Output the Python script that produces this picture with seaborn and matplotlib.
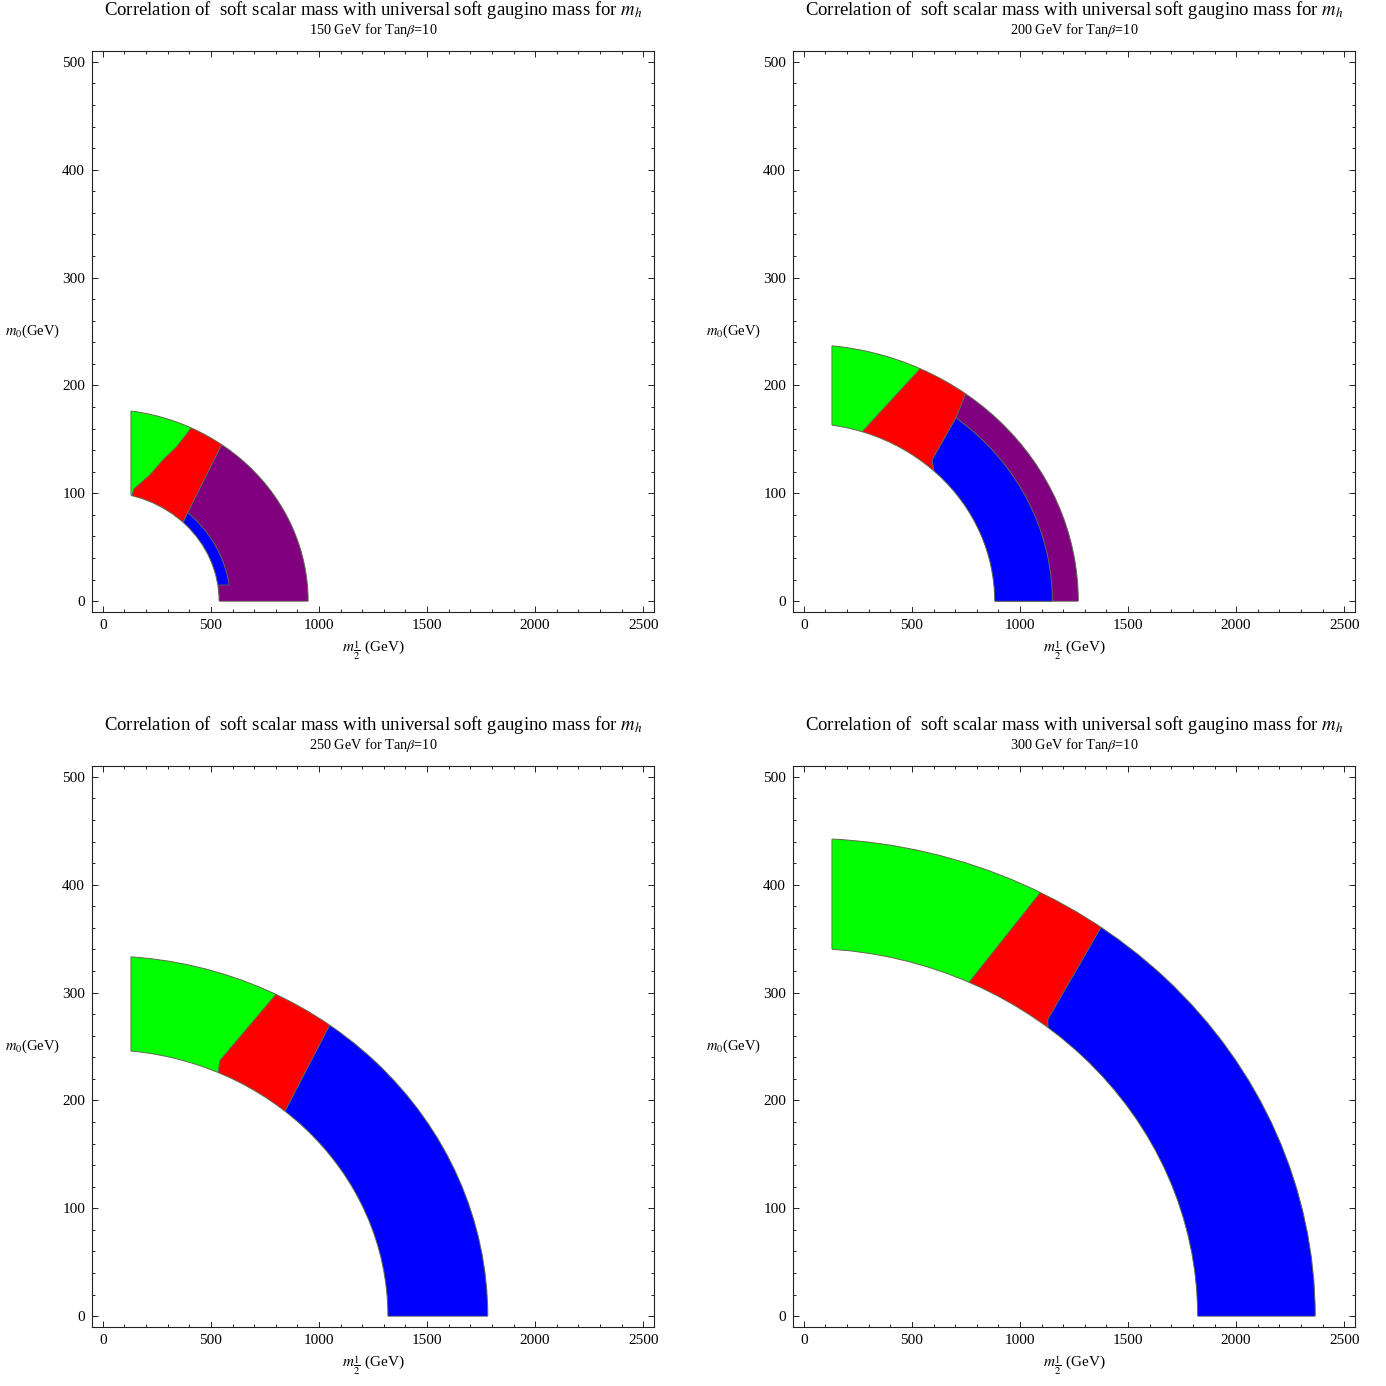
import matplotlib
matplotlib.use("Agg")
import matplotlib.pyplot as plt
from matplotlib.patches import Polygon, Ellipse, Rectangle
import seaborn as sns

sns.set_style("ticks")
plt.rcParams['font.family'] = ['Liberation Serif', 'DejaVu Serif']
plt.rcParams['mathtext.fontset'] = 'stix'
for k in ['text.color', 'axes.labelcolor', 'xtick.color', 'ytick.color']:
    plt.rcParams[k] = 'black'

higgs_masses = [150, 200, 250, 300]
m12_min = 130

# band edges: (m_1/2 at m_0 = 0, m_0 at m_1/2 = 0)
inner_edge = [(538, 101), (883, 165), (1319, 247), (1822, 341)]
outer_edge = [(950, 178), (1270, 238), (1781, 334), (2366, 443)]

# m_h = 150 GeV
p1_green_red_x = [136, 144, 218, 279, 341, 400]
p1_green_red_y = [98, 104, 117, 131, 143, 158]
p1_red_purple_x = [372, 395, 542]
p1_red_purple_y = [73, 83, 142]
p1_blue_edge = (590, 110)
p1_blue_floor_x = [300, 700]
p1_blue_floor_y = [15, 15]

# m_h = 200 GeV
p2_green_red_x = [270, 532]
p2_green_red_y = [157, 214]
p2_red_purple_x = [602, 594, 702, 748]
p2_red_purple_y = [121, 131, 169, 192]
p2_blue_edge = (1150, 215)

# m_h = 250 GeV
p3_green_red_x = [534, 542, 796]
p3_green_red_y = [226, 237, 297]
p3_red_blue_x = [843, 1048]
p3_red_blue_y = [190, 269]

# m_h = 300 GeV
p4_green_red_x = [767, 1092]
p4_green_red_y = [310, 392]
p4_red_blue_x = [1130, 1129, 1371]
p4_red_blue_y = [268, 275, 359]

GREEN, RED, PURPLE, BLUE = '#00ff00', '#ff0000', '#800080', '#0000ff'
EDGE = '#5e6a4e'


def left_cut(i):
    return [m12_min, m12_min], [inner_edge[i][1] * 0.5, outer_edge[i][1] * 1.02]


def bottom_cut(i):
    return [inner_edge[i][0] * 0.6, outer_edge[i][0] * 1.02], [0, 0]


def add_region(ax, color, left, right, clip_ab):
    lx, ly = left
    rx, ry = right
    pts = [(m12_min, 0)] + list(zip(lx, ly))
    pts += [(2 * lx[-1], 2 * ly[-1]), (2 * rx[-1], 2 * ry[-1])]
    pts += list(zip(rx, ry))[::-1]
    poly = Polygon(pts, closed=True, facecolor=color, edgecolor=EDGE,
                   lw=0.6, zorder=1)
    ax.add_patch(poly)
    clip = Ellipse((0, 0), 2 * clip_ab[0], 2 * clip_ab[1], transform=ax.transData)
    poly.set_clip_path(clip)
    return poly


def add_edge_line(ax, ab, clip):
    e = Ellipse((0, 0), 2 * ab[0], 2 * ab[1], fill=False, edgecolor=EDGE,
                lw=0.7, zorder=1.6)
    ax.add_patch(e)
    e.set_clip_path(clip)


fig = plt.figure(figsize=(13.86, 13.86), dpi=100)
W, H = 1386, 1386
boxes = [(92, 51), (793, 51), (92, 766), (793, 766)]
axes = []
for (l, t) in boxes:
    axes.append(fig.add_axes([l / W, 1 - (t + 561) / H, 562 / W, 561 / H]))

p1_gr = (p1_green_red_x, p1_green_red_y)
p1_rp = (p1_red_purple_x, p1_red_purple_y)
p2_gr = (p2_green_red_x, p2_green_red_y)
p2_rp = (p2_red_purple_x, p2_red_purple_y)
p3_gr = (p3_green_red_x, p3_green_red_y)
p3_rb = (p3_red_blue_x, p3_red_blue_y)
p4_gr = (p4_green_red_x, p4_green_red_y)
p4_rb = (p4_red_blue_x, p4_red_blue_y)

for i, ax in enumerate(axes):
    outer = outer_edge[i]
    inner = inner_edge[i]
    if i == 0:
        add_region(ax, GREEN, left_cut(0), p1_gr, outer)
        add_region(ax, RED, p1_gr, p1_rp, outer)
        add_region(ax, PURPLE, p1_rp, bottom_cut(0), outer)
        b = add_region(ax, BLUE, p1_rp, (p1_blue_floor_x, p1_blue_floor_y), p1_blue_edge)
        add_edge_line(ax, p1_blue_edge, b)
    elif i == 1:
        add_region(ax, GREEN, left_cut(1), p2_gr, outer)
        add_region(ax, RED, p2_gr, p2_rp, outer)
        add_region(ax, PURPLE, p2_rp, bottom_cut(1), outer)
        b = add_region(ax, BLUE, p2_rp, bottom_cut(1), p2_blue_edge)
        add_edge_line(ax, p2_blue_edge, b)
    elif i == 2:
        add_region(ax, GREEN, left_cut(2), p3_gr, outer)
        add_region(ax, RED, p3_gr, p3_rb, outer)
        add_region(ax, BLUE, p3_rb, bottom_cut(2), outer)
    else:
        add_region(ax, GREEN, left_cut(3), p4_gr, outer)
        add_region(ax, RED, p4_gr, p4_rb, outer)
        add_region(ax, BLUE, p4_rb, bottom_cut(3), outer)

    # white hole inside the band, a bit wider than the band's cut so the
    # polygon hub edges vanish
    wide = Rectangle((m12_min - 10, -5), 4000, 1000, transform=ax.transData)
    rect = Rectangle((m12_min, 0), 4000, 1000, transform=ax.transData)
    hole = Ellipse((0, 0), 2 * inner[0], 2 * inner[1], facecolor='white',
                   edgecolor='none', zorder=1.5)
    ax.add_patch(hole)
    hole.set_clip_path(wide)
    add_edge_line(ax, inner, rect)
    add_edge_line(ax, outer, rect)

    ax.set_xlim(-50, 2550)
    ax.set_ylim(-10, 510)
    ax.set_xticks(range(0, 2501, 500))
    ax.set_xticks(range(0, 2501, 100), minor=True)
    ax.set_yticks(range(0, 501, 100))
    ax.set_yticks(range(0, 501, 20), minor=True)
    ax.tick_params(which='both', direction='in', top=True, right=True,
                   width=0.7, color='#222222', labelsize=11, pad=5)
    ax.tick_params(which='major', length=4.5)
    ax.tick_params(which='minor', length=2.5)
    for s in ax.spines.values():
        s.set_linewidth(0.8)
        s.set_color('#222222')

    ax.set_xlabel(r'$m_{\dfrac{1}{2}}$ (GeV)', fontsize=11, va='top')
    ax.xaxis.set_label_coords(0.5, -0.048)
    ax.set_ylabel(r'$m_0$(GeV)', fontsize=10.5, rotation=0, ha='right', va='center')
    ax.yaxis.set_label_coords(-0.057, 0.5)

    ax.text(0.5, 1 + 41 / 561,
            r'Correlation of  soft scalar mass with universal soft gaugino mass for $m_h$',
            ha='center', va='center', fontsize=13.5, transform=ax.transAxes)
    ax.text(0.5, 1 + 21 / 561, f'{higgs_masses[i]} GeV for Tan' + r'$\beta$=10',
            ha='center', va='center', fontsize=10.3, transform=ax.transAxes)

fig.savefig('out.png', dpi=100)
